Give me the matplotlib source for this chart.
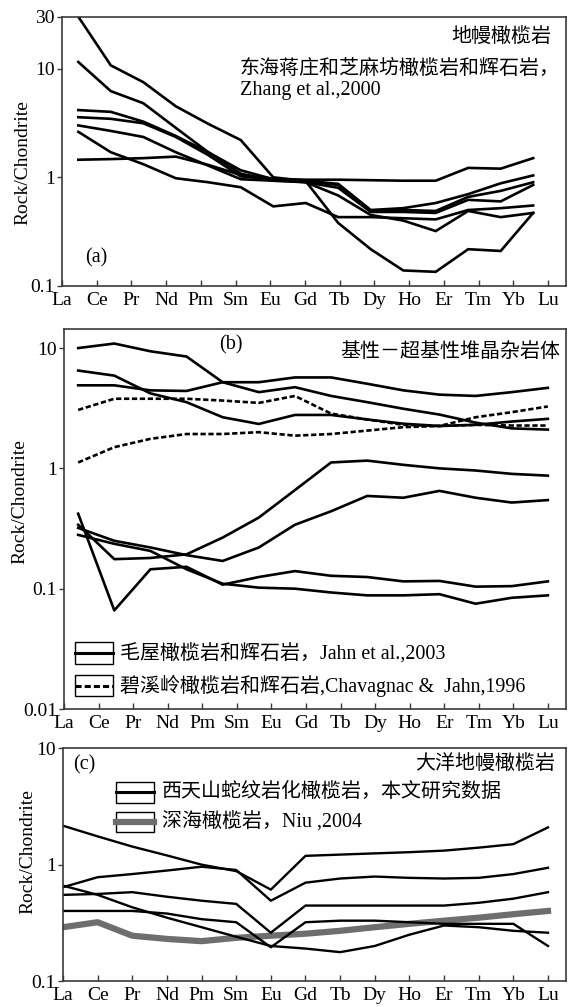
import numpy as np
import matplotlib
matplotlib.use('Agg')
import matplotlib.pyplot as plt
from matplotlib.patches import Rectangle
from matplotlib.lines import Line2D
from matplotlib.ticker import FixedLocator, FixedFormatter, NullLocator

# ---------------- data ----------------
REE = ['La', 'Ce', 'Pr', 'Nd', 'Pm', 'Sm', 'Eu', 'Gd', 'Tb', 'Dy', 'Ho', 'Er', 'Tm', 'Yb', 'Lu']
REE_NO_PM = ['La', 'Ce', 'Pr', 'Nd', 'Sm', 'Eu', 'Gd', 'Tb', 'Dy', 'Ho', 'Er', 'Tm', 'Yb', 'Lu']

# (a) Donghai mantle peridotites (Zhang et al., 2000), 15 REE incl. Pm
a_s1 = [30, 10.7, 7.5, 4.5, 3.1, 2.2, 1.0, 0.92, 0.38, 0.218, 0.139, 0.135, 0.218, 0.21, 0.47]
a_s2 = [11.5, 6.2, 4.8, 2.85, 1.7, 1.16, 0.96, 0.93, 0.87, 0.50, 0.52, 0.58, 0.70, 0.88, 1.04]
a_s3 = [4.15, 4.0, 3.25, 2.4, 1.7, 1.08, 0.93, 0.92, 0.85, 0.49, 0.50, 0.49, 0.66, 0.75, 0.90]
a_s4 = [3.57, 3.45, 3.14, 2.35, 1.6, 1.02, 0.95, 0.90, 0.68, 0.45, 0.40, 0.32, 0.49, 0.43, 0.47]
a_s5 = [3.0, 2.67, 2.35, 1.7, 1.28, 0.96, 0.93, 0.90, 0.80, 0.48, 0.48, 0.47, 0.62, 0.60, 0.85]
a_s6 = [2.62, 1.7, 1.32, 0.98, 0.90, 0.81, 0.54, 0.58, 0.43, 0.43, 0.42, 0.41, 0.50, 0.52, 0.55]
a_s7 = [1.45, 1.47, 1.5, 1.55, 1.3, 1.05, 0.97, 0.95, 0.95, 0.94, 0.93, 0.93, 1.22, 1.20, 1.50]

# (b) mafic-ultramafic cumulates, 14 REE (no Pm)
b_mw1 = [10.0, 10.9, 9.4, 8.5, 5.2, 4.3, 4.73, 4.0, 3.55, 3.13, 2.8, 2.4, 2.15, 2.1]
b_mw2 = [6.5, 5.9, 4.2, 3.55, 2.66, 2.34, 2.78, 2.78, 2.55, 2.35, 2.25, 2.3, 2.45, 2.58]
b_mw3 = [4.9, 4.9, 4.45, 4.4, 5.2, 5.2, 5.7, 5.7, 5.05, 4.45, 4.1, 4.0, 4.3, 4.67]
b_mw4 = [0.34, 0.176, 0.18, 0.193, 0.266, 0.39, 0.66, 1.12, 1.16, 1.07, 1.0, 0.96, 0.90, 0.87]
b_mw5 = [0.32, 0.25, 0.22, 0.19, 0.17, 0.22, 0.34, 0.44, 0.59, 0.57, 0.65, 0.57, 0.52, 0.545]
b_mw6 = [0.42, 0.066, 0.145, 0.152, 0.108, 0.125, 0.14, 0.128, 0.125, 0.115, 0.116, 0.104, 0.105, 0.115]
b_mw7 = [0.28, 0.236, 0.206, 0.145, 0.11, 0.102, 0.10, 0.093, 0.088, 0.088, 0.09, 0.075, 0.084, 0.088]
b_bx1 = [3.06, 3.79, 3.79, 3.79, 3.66, 3.5, 4.0, 2.85, 2.55, 2.3, 2.25, 2.66, 2.93, 3.27]
b_bx2 = [1.12, 1.5, 1.76, 1.93, 1.93, 2.0, 1.87, 1.93, 2.06, 2.2, 2.25, 2.3, 2.27, 2.27]

# (c) oceanic mantle peridotites, 15 REE
c_w1 = [2.16, 1.75, 1.43, 1.2, 1.0, 0.88, 0.61, 1.19, 1.22, 1.25, 1.28, 1.32, 1.4, 1.5, 2.09]
c_w2 = [0.64, 0.78, 0.83, 0.89, 0.96, 0.90, 0.49, 0.70, 0.76, 0.79, 0.77, 0.76, 0.77, 0.83, 0.94]
c_w3 = [0.55, 0.56, 0.58, 0.53, 0.49, 0.46, 0.26, 0.445, 0.445, 0.445, 0.445, 0.445, 0.47, 0.51, 0.58]
c_w4 = [0.66, 0.55, 0.43, 0.35, 0.29, 0.24, 0.20, 0.19, 0.177, 0.20, 0.25, 0.30, 0.29, 0.27, 0.26]
c_w5 = [0.40, 0.40, 0.40, 0.38, 0.34, 0.32, 0.195, 0.32, 0.33, 0.33, 0.32, 0.31, 0.31, 0.31, 0.20]
c_niu = [0.29, 0.32, 0.245, 0.23, 0.22, 0.235, 0.245, 0.255, 0.27, 0.29, 0.31, 0.33, 0.35, 0.375, 0.40]

# ---------------- style ----------------
SERIF = ['Liberation Serif', 'Noto Sans CJK SC']
CJK = ['Noto Sans CJK SC', 'Liberation Serif']
plt.rcParams['font.family'] = SERIF
SPINE_C = '#3a3a3a'
LW = 1.9

W, H = 575, 1007
fig = plt.figure(figsize=(W / 100, H / 100), dpi=100)


def px_axes(left, right, top, bottom):
    return fig.add_axes([left / W, (H - bottom) / H, (right - left) / W, (bottom - top) / H])


XMAX = 14.52


def style_axes(ax, ylim, yticks, ylabels, label_xy):
    ax.set_yscale('log')
    ax.set_ylim(*ylim)
    ax.set_xlim(0, XMAX)
    ax.xaxis.set_major_locator(FixedLocator(range(len(REE))))
    ax.xaxis.set_major_formatter(FixedFormatter(REE))
    ax.yaxis.set_major_locator(FixedLocator(yticks))
    ax.yaxis.set_major_formatter(FixedFormatter(ylabels))
    ax.yaxis.set_minor_locator(NullLocator())
    ax.xaxis.set_minor_locator(NullLocator())
    ax.tick_params(axis='x', direction='in', length=4, width=1.0, color=SPINE_C,
                   labelsize=14, pad=4)
    ax.tick_params(axis='y', direction='out', length=3.5, width=1.0, color=SPINE_C,
                   labelsize=14, pad=1.5)
    for s in ax.spines.values():
        s.set_color(SPINE_C)
        s.set_linewidth(1.2)
    ax.set_ylabel('Rock/Chondrite', fontsize=14, va='center')
    ax.yaxis.set_label_coords(*label_xy)


# ---------------- panel (a) ----------------
axa = px_axes(62, 566, 16.7, 286)
a_x = 0.47 + 0.936 * np.arange(len(REE))
for s in [a_s1, a_s2, a_s3, a_s4, a_s5, a_s6, a_s7]:
    axa.plot(a_x, s, color='black', lw=LW, solid_joinstyle='miter')
style_axes(axa, (0.1, 30), [0.1, 1, 10, 30], ['0.1', '1', '10', '30'], (-0.077, 0.46))
axa.text(0.970, 0.926, '地幔橄榄岩', transform=axa.transAxes, ha='right', va='center',
         fontsize=14.4, family=CJK)
axa.text(0.353, 0.8095, '东海蒋庄和芝麻坊橄榄岩和辉石岩，', transform=axa.transAxes,
         ha='left', va='center', fontsize=14.4, family=CJK)
axa.text(0.353, 0.725, 'Zhang et al.,2000', transform=axa.transAxes,
         ha='left', va='center', fontsize=14.5, family=SERIF)
axa.text(0.067, 0.104, '(a)', transform=axa.transAxes, ha='center', va='center',
         fontsize=14.5, family=SERIF)

# ---------------- panel (b) ----------------
axb = px_axes(64, 566, 329, 709)
b_x = 0.41 + 1.045 * np.arange(len(REE_NO_PM))
for s in [b_mw1, b_mw2, b_mw3, b_mw4, b_mw5, b_mw6, b_mw7]:
    axb.plot(b_x, s, color='black', lw=LW)
for s in [b_bx1, b_bx2]:
    axb.plot(b_x, s, color='black', lw=LW, ls=(0, (2.0, 1.0)))
style_axes(axb, (0.01, 14.4), [0.01, 0.1, 1, 10], ['0.01', '0.1', '1', '10'], (-0.088, 0.545))
axb.text(0.333, 0.958, '(b)', transform=axb.transAxes, ha='center', va='center',
         fontsize=14.5, family=SERIF)
axb.text(0.988, 0.9395, '基性－超基性堆晶杂岩体', transform=axb.transAxes, ha='right',
         va='center', fontsize=14.4, family=CJK)


def legend_entry(ax, x0, x1, y0, y1, tx, text, **line_kw):
    ax.add_patch(Rectangle((x0, y0), x1 - x0, y1 - y0, transform=ax.transAxes,
                           fill=False, ec='black', lw=1.0, zorder=5))
    ym = (y0 + y1) / 2
    ax.add_line(Line2D([x0, x1], [ym, ym], transform=ax.transAxes, zorder=6, **line_kw))
    ax.text(tx, ym, text, transform=ax.transAxes, ha='left', va='center',
            fontsize=14.4, family=SERIF, zorder=6)


legend_entry(axb, 0.022, 0.098, 0.118, 0.176, 0.1106, '毛屋橄榄岩和辉石岩，Jahn et al.,2003',
             color='black', lw=2.2)
legend_entry(axb, 0.022, 0.098, 0.034, 0.0895, 0.1106,
             '碧溪岭橄榄岩和辉石岩,Chavagnac &  Jahn,1996',
             color='black', lw=2.2, ls=(0, (2.0, 1.0)))

# ---------------- panel (c) ----------------
axc = px_axes(63, 566, 748.3, 981)
c_x = np.arange(len(REE))
for s in [c_w1, c_w2, c_w3, c_w4, c_w5]:
    axc.plot(c_x, s, color='black', lw=1.7)
axc.plot(c_x, c_niu, color='#6e6e6e', lw=4.5, zorder=1.5)
style_axes(axc, (0.1, 10), [0.1, 1, 10], ['0.1', '1', '10'], (-0.07, 0.555))
axc.text(0.042, 0.928, '(c)', transform=axc.transAxes, ha='center', va='center',
         fontsize=14.5, family=SERIF)
axc.text(0.978, 0.937, '大洋地幔橄榄岩', transform=axc.transAxes, ha='right',
         va='center', fontsize=14.4, family=CJK)
legend_entry(axc, 0.105, 0.181, 0.766, 0.856, 0.197, '西天山蛇纹岩化橄榄岩，本文研究数据',
             color='black', lw=2.2)
legend_entry(axc, 0.105, 0.181, 0.6416, 0.7275, 0.197, '深海橄榄岩，Niu ,2004',
             color='#6e6e6e', lw=4.5)

fig.savefig('out.png', dpi=100)
